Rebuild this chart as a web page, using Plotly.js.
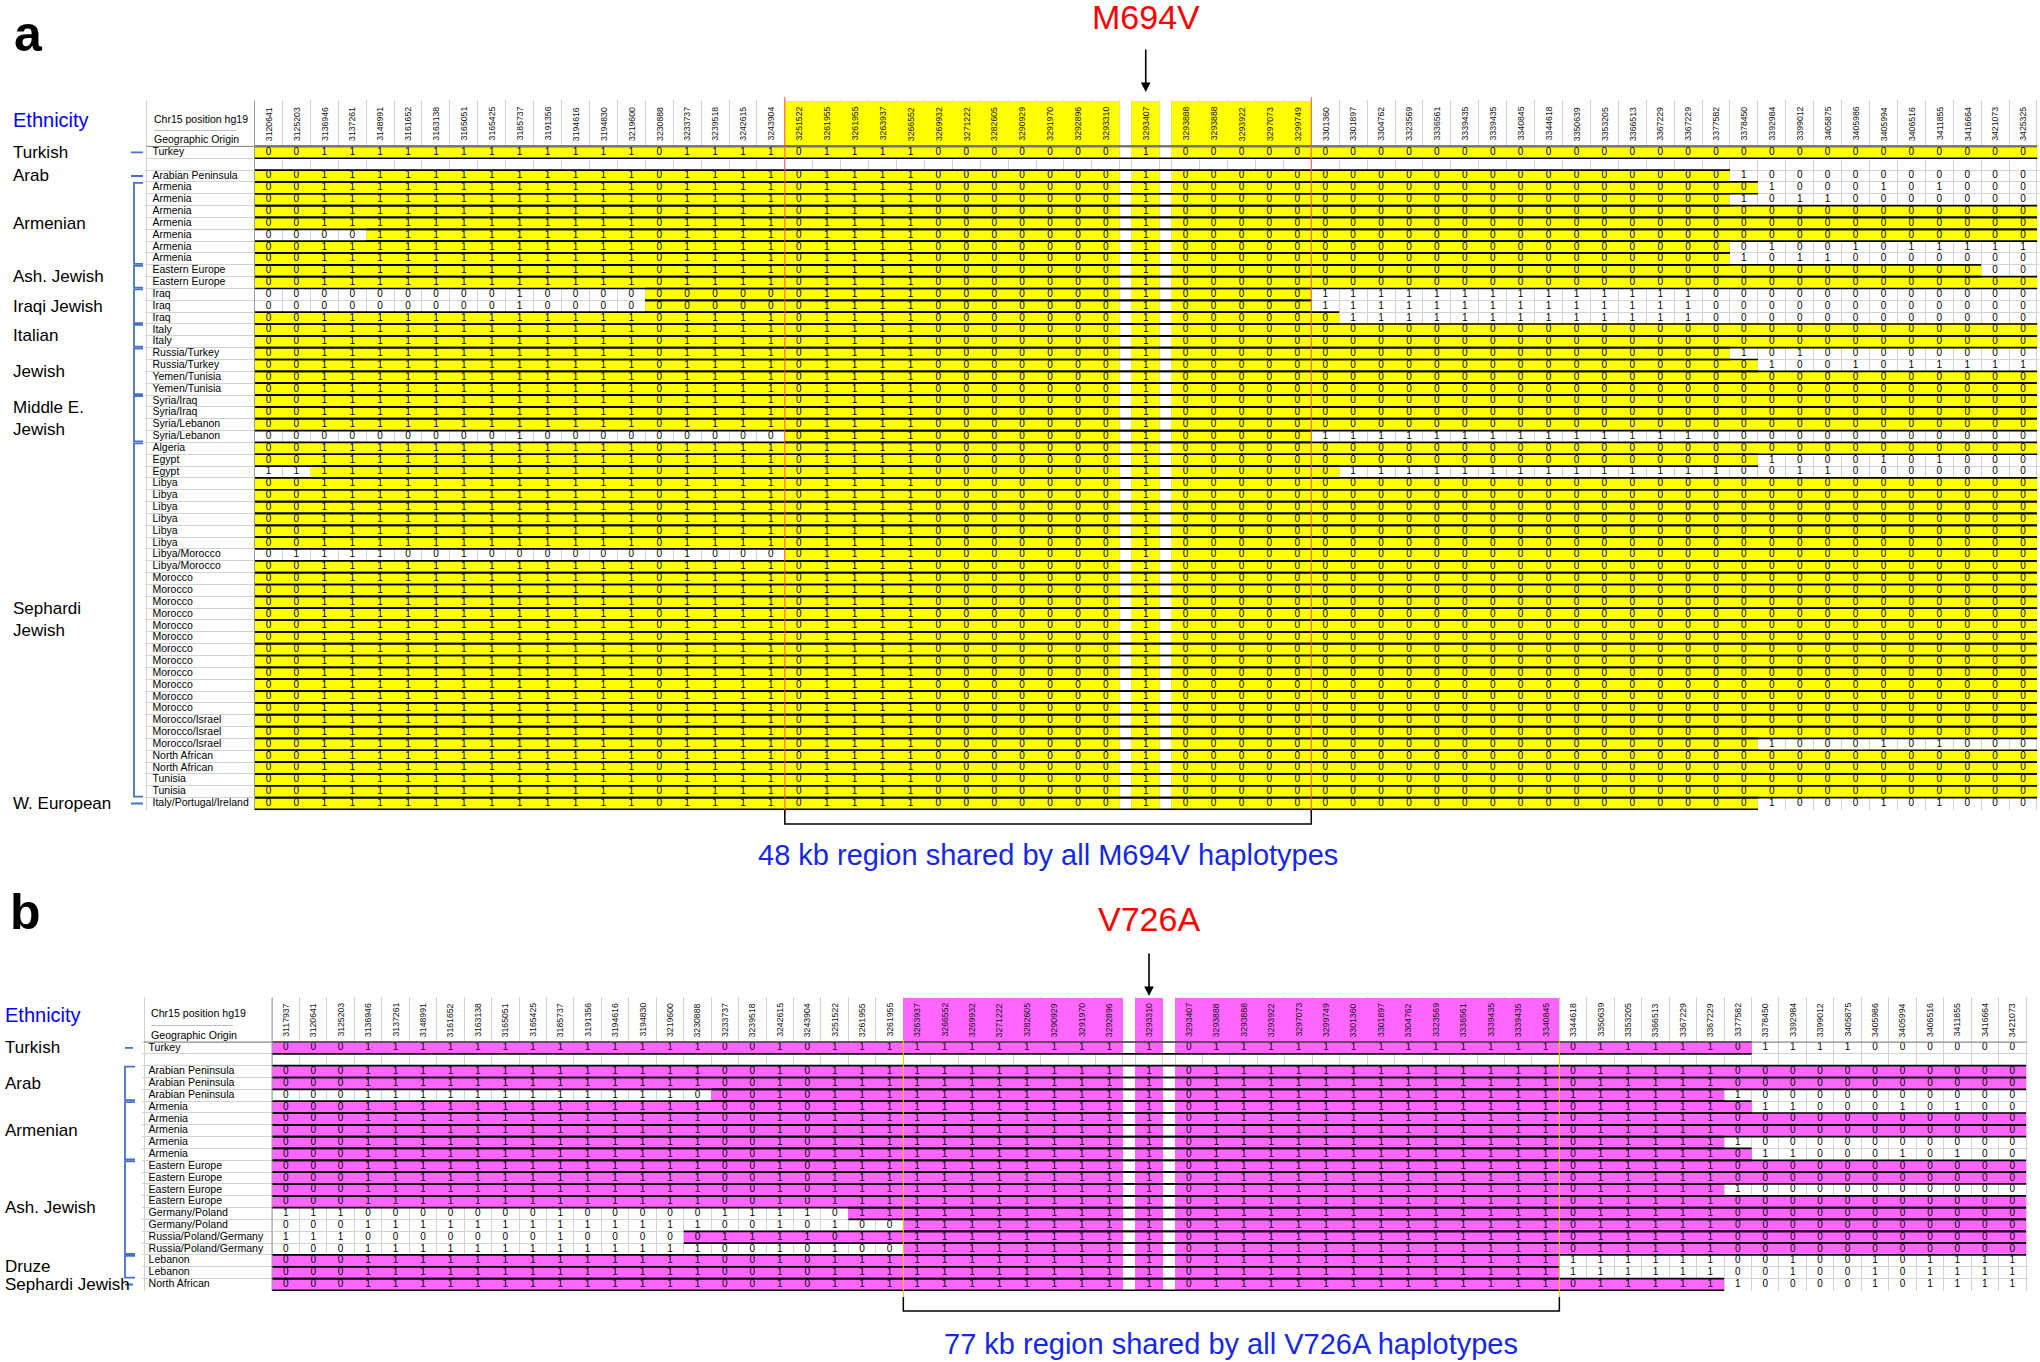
<!DOCTYPE html>
<html><head><meta charset="utf-8">
<script src="https://cdn.plot.ly/plotly-3.0.1.min.js"></script>
<style>html,body{margin:0;padding:0;background:#fff}#chart{width:2040px;height:1362px}</style>
</head><body><div id="chart"></div>
<script>
// ================= DATA =================
// Panel a (M694V)
const positionsA = [3120641,3125203,3136946,3137261,3148991,3161652,3163138,3165051,3165425,3185737,3191356,3194616,3194830,3219600,3230888,3233737,3239518,3242615,3243904,3251522,3261955,3261955,3263937,3266552,3269932,3271222,3282605,3290929,3291970,3292896,3293310,3293407,3293888,3293888,3293922,3297073,3299749,3301360,3301897,3304762,3323569,3336561,3339435,3339435,3340845,3344618,3350639,3353205,3366513,3367229,3367229,3377582,3378450,3392984,3399012,3405875,3405986,3405994,3406516,3411855,3416664,3421073,3425325];
const originsA = ["Turkey","","Arabian Peninsula","Armenia","Armenia","Armenia","Armenia","Armenia","Armenia","Armenia","Eastern Europe","Eastern Europe","Iraq","Iraq","Iraq","Italy","Italy","Russia/Turkey","Russia/Turkey","Yemen/Tunisia","Yemen/Tunisia","Syria/Iraq","Syria/Iraq","Syria/Lebanon","Syria/Lebanon","Algeria","Egypt","Egypt","Libya","Libya","Libya","Libya","Libya","Libya","Libya/Morocco","Libya/Morocco","Morocco","Morocco","Morocco","Morocco","Morocco","Morocco","Morocco","Morocco","Morocco","Morocco","Morocco","Morocco","Morocco/Israel","Morocco/Israel","Morocco/Israel","North African","North African","Tunisia","Tunisia","Italy/Portugal/Ireland"];
const haplotypesA = [
"00111111111111 0111101 1110000000 1 0000000000 0000000000 00000000000",
null,
"00111111111111 0111101 1110000000 1 0000000000 0000000000 10000000000",
"00111111111111 0111101 1110000000 1 0000000000 0000000000 01000101000",
"00111111111111 0111101 1110000000 1 0000000000 0000000000 10110000000",
"00111111111111 0111101 1110000000 1 0000000000 0000000000 00000000000",
"00111111111111 0111101 1110000000 1 0000000000 0000000000 00000000000",
"00001111111111 0111101 1110000000 1 0000000000 0000000000 00000000000",
"00111111111111 0111101 1110000000 1 0000000000 0000000000 01001011111",
"00111111111111 0111101 1110000000 1 0000000000 0000000000 10110000000",
"00111111111111 0111101 1110000000 1 0000000000 0000000000 00000000000",
"00111111111111 0111101 1110000000 1 0000000000 0000000000 00000000000",
"00000000010000 0000001 1110000000 1 0000011111 1111111110 00000000000",
"00000000010000 0000001 1110000000 1 0000011111 1111111110 00000000000",
"00111111111111 0111101 1110000000 1 0000001111 1111111110 00000000000",
"00111111111111 0111101 1110000000 1 0000000000 0000000000 00000000000",
"00111111111111 0111101 1110000000 1 0000000000 0000000000 00000000000",
"00111111111111 0111101 1110000000 1 0000000000 0000000000 10100000000",
"00111111111111 0111101 1110000000 1 0000000000 0000000000 01001011111",
"00111111111111 0111101 1110000000 1 0000000000 0000000000 00000000000",
"00111111111111 0111101 1110000000 1 0000000000 0000000000 00000000000",
"00111111111111 0111101 1110000000 1 0000000000 0000000000 00000000000",
"00111111111111 0111101 1110000000 1 0000000000 0000000000 00000000000",
"00111111111111 0111101 1110000000 1 0000000000 0000000000 00000000000",
"00000000010000 0000001 1110000000 1 0000011111 1111111110 00000000000",
"00111111111111 0111101 1110000000 1 0000000000 0000000000 00000000000",
"00111111111111 0111101 1110000000 1 0000000000 0000000000 01000101000",
"11111111111111 0111101 1110000000 1 0000001111 1111111111 00110000000",
"00111111111111 0111101 1110000000 1 0000000000 0000000000 00000000000",
"00111111111111 0111101 1110000000 1 0000000000 0000000000 00000000000",
"00111111111111 0111101 1110000000 1 0000000000 0000000000 00000000000",
"00111111111111 0111101 1110000000 1 0000000000 0000000000 00000000000",
"00111111111111 0111101 1110000000 1 0000000000 0000000000 00000000000",
"00111111111111 0111101 1110000000 1 0000000000 0000000000 00000000000",
"01111001000000 0100001 1110000000 1 0000000000 0000000000 00000000000",
"00111111111111 0111101 1110000000 1 0000000000 0000000000 00000000000",
"00111111111111 0111101 1110000000 1 0000000000 0000000000 00000000000",
"00111111111111 0111101 1110000000 1 0000000000 0000000000 00000000000",
"00111111111111 0111101 1110000000 1 0000000000 0000000000 00000000000",
"00111111111111 0111101 1110000000 1 0000000000 0000000000 00000000000",
"00111111111111 0111101 1110000000 1 0000000000 0000000000 00000000000",
"00111111111111 0111101 1110000000 1 0000000000 0000000000 00000000000",
"00111111111111 0111101 1110000000 1 0000000000 0000000000 00000000000",
"00111111111111 0111101 1110000000 1 0000000000 0000000000 00000000000",
"00111111111111 0111101 1110000000 1 0000000000 0000000000 00000000000",
"00111111111111 0111101 1110000000 1 0000000000 0000000000 00000000000",
"00111111111111 0111101 1110000000 1 0000000000 0000000000 00000000000",
"00111111111111 0111101 1110000000 1 0000000000 0000000000 00000000000",
"00111111111111 0111101 1110000000 1 0000000000 0000000000 00000000000",
"00111111111111 0111101 1110000000 1 0000000000 0000000000 00000000000",
"00111111111111 0111101 1110000000 1 0000000000 0000000000 01000101000",
"00111111111111 0111101 1110000000 1 0000000000 0000000000 00000000000",
"00111111111111 0111101 1110000000 1 0000000000 0000000000 00000000000",
"00111111111111 0111101 1110000000 1 0000000000 0000000000 00000000000",
"00111111111111 0111101 1110000000 1 0000000000 0000000000 00000000000",
"00111111111111 0111101 1110000000 1 0000000000 0000000000 01000101000"
];
// shared (highlighted) segment per row: [first column, last column]
const sharedA = [[1,63],null,[1,52],[1,53],[1,52],[1,63],[1,63],[5,63],[1,52],[1,52],[1,61],[1,63],[15,37],[15,37],[1,38],[1,63],[1,63],[1,52],[1,53],[1,63],[1,63],[1,63],[1,63],[1,63],[20,37],[1,63],[1,53],[3,38],[1,63],[1,63],[1,63],[1,63],[1,63],[1,63],[20,63],[1,63],[1,63],[1,63],[1,63],[1,63],[1,63],[1,63],[1,63],[1,63],[1,63],[1,63],[1,63],[1,63],[1,63],[1,63],[1,53],[1,63],[1,63],[1,63],[1,63],[1,53]];
const ethnicityA = ["Turkish","Arab","Armenian","Ash. Jewish","Iraqi Jewish","Italian","Jewish","Middle E.<br>Jewish","Sephardi<br>Jewish","W. European"];
const ethnicityRowsA = [[1,1],[3,3],[4,10],[11,12],[13,15],[16,17],[18,21],[22,25],[26,55],[56,56]];

// Panel b (V726A)
const positionsB = [3117937,3120641,3125203,3136946,3137261,3148991,3161652,3163138,3165051,3165425,3185737,3191356,3194616,3194830,3219600,3230888,3233737,3239518,3242615,3243904,3251522,3261955,3261955,3263937,3266552,3269932,3271222,3282605,3290929,3291970,3292896,3293310,3293407,3293888,3293888,3293922,3297073,3299749,3301360,3301897,3304762,3323569,3336561,3339435,3339435,3340845,3344618,3350639,3353205,3366513,3367229,3367229,3377582,3378450,3392984,3399012,3405875,3405986,3405994,3406516,3411855,3416664,3421073];
const originsB = ["Turkey","","Arabian Peninsula","Arabian Peninsula","Arabian Peninsula","Armenia","Armenia","Armenia","Armenia","Armenia","Eastern Europe","Eastern Europe","Eastern Europe","Eastern Europe","Germany/Poland","Germany/Poland","Russia/Poland/Germany","Russia/Poland/Germany","Lebanon","Lebanon","North African"];
const haplotypesB = [
"00011111111111 110010111 11111111 1 0111111111 11110111110 1111000000",
null,
"00011111111111 110010111 11111111 1 0111111111 11110111110 0000000000",
"00011111111111 110010111 11111111 1 0111111111 11110111110 0000000000",
"00011111111111 100010111 11111111 1 0111111111 11111111111 0000000000",
"00011111111111 110010111 11111111 1 0111111111 11110111110 1100010100",
"00011111111111 110010111 11111111 1 0111111111 11110111110 0000000000",
"00011111111111 110010111 11111111 1 0111111111 11110111110 0000000000",
"00011111111111 110010111 11111111 1 0111111111 11110111111 0000000000",
"00011111111111 110010111 11111111 1 0111111111 11110111110 1100010100",
"00011111111111 110010111 11111111 1 0111111111 11110111110 0000000000",
"00011111111111 110010111 11111111 1 0111111111 11110111110 0000000000",
"00011111111111 110010111 11111111 1 0111111111 11110111111 0000000000",
"00011111111111 110010111 11111111 1 0111111111 11110111110 0000000000",
"11100000001000 001111011 11111111 1 0111111111 11110111110 0000000000",
"00011111111111 110010100 11111111 1 0111111111 11110111110 0000000000",
"11100000001000 001111011 11111111 1 0111111111 11110111110 0000000000",
"00011111111111 110010100 11111111 1 0111111111 11110111110 0000000000",
"00011111111111 110010111 11111111 1 0111111111 11111111110 0100101111",
"00011111111111 110010111 11111111 1 0111111111 11111111110 0100101111",
"00011111111111 110010111 11111111 1 0111111111 11110111111 0000101111"
];
const sharedB = [[1,53],null,[1,63],[1,63],[17,52],[1,53],[1,63],[1,63],[1,52],[1,53],[1,63],[1,63],[1,52],[1,63],[22,63],[24,63],[16,63],[24,63],[1,46],[1,46],[1,52]];
const ethnicityB = ["Turkish","Arab","Armenian","Ash. Jewish","Druze","Sephardi Jewish"];
const ethnicityRowsB = [[1,1],[3,5],[6,10],[11,18],[19,20],[21,21]];

// ================= DRAWING =================
const W = 2040, H = 1362;
const FONT = 'Liberation Sans, Arial, sans-serif';
const traces = [], annotations = [], shapes = [];
const layout = {
  width: W, height: H, margin: {l:0, r:0, t:0, b:0},
  paper_bgcolor: '#ffffff', plot_bgcolor: 'rgba(0,0,0,0)',
  showlegend: false, font: {family: FONT, color: '#000'}
};
const py = p => 1 - p / H;

function panel(P) {
  const n = P.origins.length, nCols = P.positions.length;
  const unit = (P.tableRight - P.tableLeft) / (nCols + 2 * P.gap);
  const colLeft = k => (k - 1) + (k >= P.iso ? P.gap : 0) + (k >= P.iso + 1 ? P.gap : 0);
  const totalU = nCols + 2 * P.gap;
  const geoW = (P.tableLeft - P.geoLeft) / unit;
  const hdr = (P.row1Top - P.headerTop) / P.rowH;
  const pxX = v => P.tableLeft + v * unit;
  const pxY = v => P.row1Top + (v - 0.5) * P.rowH;
  const pad = 0.06;
  const xr = [-geoW - pad, totalU + pad];
  const yr = [n + 0.5 + pad, 0.5 - hdr - pad];
  const xa = P.xa, ya = P.ya;
  const xName = xa === 'x' ? 'xaxis' : 'xaxis' + xa.slice(1);
  const yName = ya === 'y' ? 'yaxis' : 'yaxis' + ya.slice(1);

  // grid (cell borders) through axis gridlines
  const xt = [-geoW];
  for (let k = 1; k <= nCols; k++) { xt.push(colLeft(k)); xt.push(colLeft(k) + 1); }
  const yt = [];
  for (let r = 0; r <= n; r++) yt.push(0.5 + r);
  layout[xName] = {domain: [pxX(xr[0]) / W, pxX(xr[1]) / W], range: xr, tickvals: xt, showgrid: true,
    gridcolor: '#d2d2d2', gridwidth: 1, showticklabels: false, ticks: '', zeroline: false, showline: false,
    fixedrange: true, anchor: ya};
  layout[yName] = {domain: [1 - pxY(yr[0]) / H, 1 - pxY(yr[1]) / H], range: yr, tickvals: yt, showgrid: true,
    gridcolor: '#d2d2d2', gridwidth: 1, showticklabels: false, ticks: '', zeroline: false, showline: false,
    fixedrange: true, anchor: xa};

  // highlighted cells (heatmap with explicit cell edges)
  const edges = [0], cellCol = [];
  for (let k = 1; k <= nCols; k++) {
    if (k === P.iso || k === P.iso + 1) { edges.push(edges[edges.length - 1] + P.gap); cellCol.push(null); }
    edges.push(edges[edges.length - 1] + 1); cellCol.push(k);
  }
  const yEdges = [0.5 - hdr];
  for (let r = 0; r <= n; r++) yEdges.push(0.5 + r);
  const z = [cellCol.map(k => (k && k >= P.hdrSpan[0] && k <= P.hdrSpan[1]) ? 1 : null)];
  P.shared.forEach(s => z.push(cellCol.map(k => (k && s && k >= s[0] && k <= s[1]) ? 1 : null)));
  traces.push({type: 'heatmap', x: edges, y: yEdges, z: z, xaxis: xa, yaxis: ya,
    colorscale: [[0, P.fill], [1, P.fill]], zmin: 0, zmax: 1, showscale: false, hoverinfo: 'skip'});

  // black borders of the shared segments
  const bx = [], by = [];
  P.shared.forEach((s, i) => {
    if (!s) return;
    const x0 = colLeft(s[0]), x1 = colLeft(s[1]) + 1, r = i + 1;
    [r - 0.5, r + 0.5].forEach(yy => { bx.push(x0, x1, null); by.push(yy, yy, null); });
  });
  traces.push({type: 'scatter', mode: 'lines', x: bx, y: by, xaxis: xa, yaxis: ya,
    line: {color: '#000', width: 1.7}, hoverinfo: 'skip'});

  // genotype digits
  const tx = [], ty = [], tt = [];
  P.haps.forEach((h, i) => {
    if (!h) return;
    const s = h.replace(/\s+/g, '');
    for (let k = 1; k <= nCols; k++) { tx.push(colLeft(k) + 0.5); ty.push(i + 1); tt.push(s[k - 1]); }
  });
  traces.push({type: 'scatter', mode: 'text', x: tx, y: ty, text: tt, xaxis: xa, yaxis: ya,
    textposition: 'middle center', textfont: {family: FONT, size: 10, color: '#000'}, hoverinfo: 'skip'});

  // geographic origin column
  traces.push({type: 'scatter', mode: 'text', x: P.origins.map(() => -geoW + P.geoPad / unit),
    y: P.origins.map((_, i) => i + 1), text: P.origins, xaxis: xa, yaxis: ya,
    textposition: 'middle right', textfont: {family: FONT, size: P.geoFont, color: '#000'}, hoverinfo: 'skip'});

  // header: rotated positions
  P.positions.forEach((p, i) => {
    annotations.push({xref: xa, yref: ya, x: colLeft(i + 1) + 0.5, y: 0.5 - hdr / 2, text: String(p),
      textangle: -90, showarrow: false, font: {family: FONT, size: 8.7, color: '#111'}});
  });
  const hx = -geoW + P.geoPad / unit;
  annotations.push({xref: xa, yref: 'paper', x: hx, y: py(P.hdrText[0]), xanchor: 'left', yanchor: 'middle',
    text: 'Chr15 position hg19', showarrow: false, font: {family: FONT, size: P.geoFont, color: '#000'}});
  annotations.push({xref: xa, yref: 'paper', x: hx, y: py(P.hdrText[1]), xanchor: 'left', yanchor: 'middle',
    text: '-----------------------------------------', showarrow: false, font: {family: FONT, size: 6, color: '#333'}});
  annotations.push({xref: xa, yref: 'paper', x: hx, y: py(P.hdrText[2]), xanchor: 'left', yanchor: 'middle',
    text: 'Geographic Origin', showarrow: false, font: {family: FONT, size: P.geoFont, color: '#000'}});

  // header bottom line and table left border
  shapes.push({type: 'line', xref: xa, yref: ya, x0: -geoW, x1: totalU, y0: 0.5, y1: 0.5,
    line: {color: '#808080', width: 1}});
  shapes.push({type: 'line', xref: xa, yref: ya, x0: 0, x1: 0, y0: 0.5 - hdr, y1: n + 0.5,
    line: {color: '#9a9a9a', width: 1}});

  // vertical marker lines of the shared region
  const rx0 = colLeft(P.hdrSpan[0]), rx1 = colLeft(P.hdrSpan[1]) + 1;
  [rx0, rx1].forEach(xx => shapes.push({type: 'line', xref: xa, yref: 'paper', x0: xx, x1: xx,
    y0: py(P.vline[0]), y1: py(P.vline[1]), line: {color: P.vlineColor, width: 1}}));

  // bracket under the table
  shapes.push({type: 'path', xref: xa, yref: 'paper',
    path: `M ${rx0},${py(P.bracket[0])} L ${rx0},${py(P.bracket[1])} L ${rx1},${py(P.bracket[1])} L ${rx1},${py(P.bracket[0])}`,
    line: {color: '#000', width: 1.5}});
  annotations.push({xref: xa, yref: 'paper', x: (rx0 + rx1) / 2, y: py(P.regionY), text: P.regionText,
    showarrow: false, xanchor: 'center', yanchor: 'middle', font: {family: FONT, size: 29, color: '#1428e6'}});

  // mutation title and arrow
  const cx = colLeft(P.iso) + 0.5;
  annotations.push({xref: xa, yref: 'paper', x: cx, y: py(P.titleY), text: P.title, showarrow: false,
    xanchor: 'center', yanchor: 'middle', font: {family: FONT, size: 34, color: '#ff0000'}});
  annotations.push({xref: xa, yref: 'paper', x: cx, y: py(P.arrow[1]), text: '', showarrow: true,
    ax: 0, ay: -(P.arrow[1] - P.arrow[0]), arrowhead: 2, arrowsize: 1.2, arrowwidth: 1.6, arrowcolor: '#000', standoff: 0});

  // panel letter and "Ethnicity"
  annotations.push({xref: 'paper', yref: 'paper', x: P.letter[0] / W, y: py(P.letter[1]), text: '<b>' + P.letterText + '</b>',
    showarrow: false, xanchor: 'center', yanchor: 'middle', font: {family: FONT, size: 50, color: '#000'}});
  annotations.push({xref: 'paper', yref: 'paper', x: P.ethX / W, y: py(P.ethTitleY), text: 'Ethnicity',
    showarrow: false, xanchor: 'left', yanchor: 'middle', font: {family: FONT, size: 20, color: '#0000ff'}});

  // ethnicity labels and blue brackets
  P.ethnicity.forEach((name, i) => {
    const [a, b] = P.ethRows[i];
    annotations.push({xref: 'paper', yref: ya, x: P.ethX / W, y: (a + b) / 2, text: name, showarrow: false,
      xanchor: 'left', yanchor: 'middle', align: 'left', font: {family: FONT, size: 17, color: '#000'}});
    if (a === b) {
      shapes.push({type: 'line', xref: 'paper', yref: ya, x0: P.dash[0] / W, x1: P.dash[1] / W, y0: a, y1: a,
        line: {color: '#4472c4', width: 1.8}});
    } else {
      const xv = P.brk[0] / W, xtk = P.brk[1] / W, y0 = a - 0.42, y1 = b + 0.42;
      shapes.push({type: 'path', xref: 'paper', yref: ya,
        path: `M ${xtk},${y0} L ${xv},${y0} L ${xv},${y1} L ${xtk},${y1}`, line: {color: '#4472c4', width: 1.8}});
    }
  });
}

panel({
  positions: positionsA, origins: originsA, haps: haplotypesA, shared: sharedA,
  ethnicity: ethnicityA, ethRows: ethnicityRowsA, xa: 'x', ya: 'y', fill: '#ffff00',
  iso: 32, gap: 0.43, hdrSpan: [20, 37],
  tableLeft: 254.5, tableRight: 2037, geoLeft: 147, geoPad: 5.5, geoFont: 10.5,
  headerTop: 101, row1Top: 146.4, rowH: 11.84, hdrText: [119, 129.5, 139.5],
  vline: [97, 814], vlineColor: '#ff5050', bracket: [810, 824], regionY: 855,
  regionText: '48 kb region shared by all M694V haplotypes',
  title: 'M694V', titleY: 17, arrow: [48, 92],
  letter: [28, 34], letterText: 'a', ethX: 11, ethTitleY: 120,
  dash: [131, 143], brk: [134, 143]
});
panel({
  positions: positionsB, origins: originsB, haps: haplotypesB, shared: sharedB,
  ethnicity: ethnicityB, ethRows: ethnicityRowsB, xa: 'x2', ya: 'y2', fill: '#ff66ff',
  iso: 32, gap: 0.45, hdrSpan: [24, 46],
  tableLeft: 272, tableRight: 2026, geoLeft: 144, geoPad: 4.5, geoFont: 10.6,
  headerTop: 998, row1Top: 1042, rowH: 11.83, hdrText: [1013, 1025, 1035],
  vline: [1040, 1300], vlineColor: '#e6cf00', bracket: [1297, 1311], regionY: 1344,
  regionText: '77 kb region shared by all V726A haplotypes',
  title: 'V726A', titleY: 919, arrow: [952, 996],
  letter: [25, 912], letterText: 'b', ethX: 3, ethTitleY: 1015,
  dash: [125, 133], brk: [125, 135]
});

layout.annotations = annotations;
layout.shapes = shapes;
Plotly.newPlot('chart', traces, layout, {displayModeBar: false, staticPlot: true});
</script>
</body></html>
